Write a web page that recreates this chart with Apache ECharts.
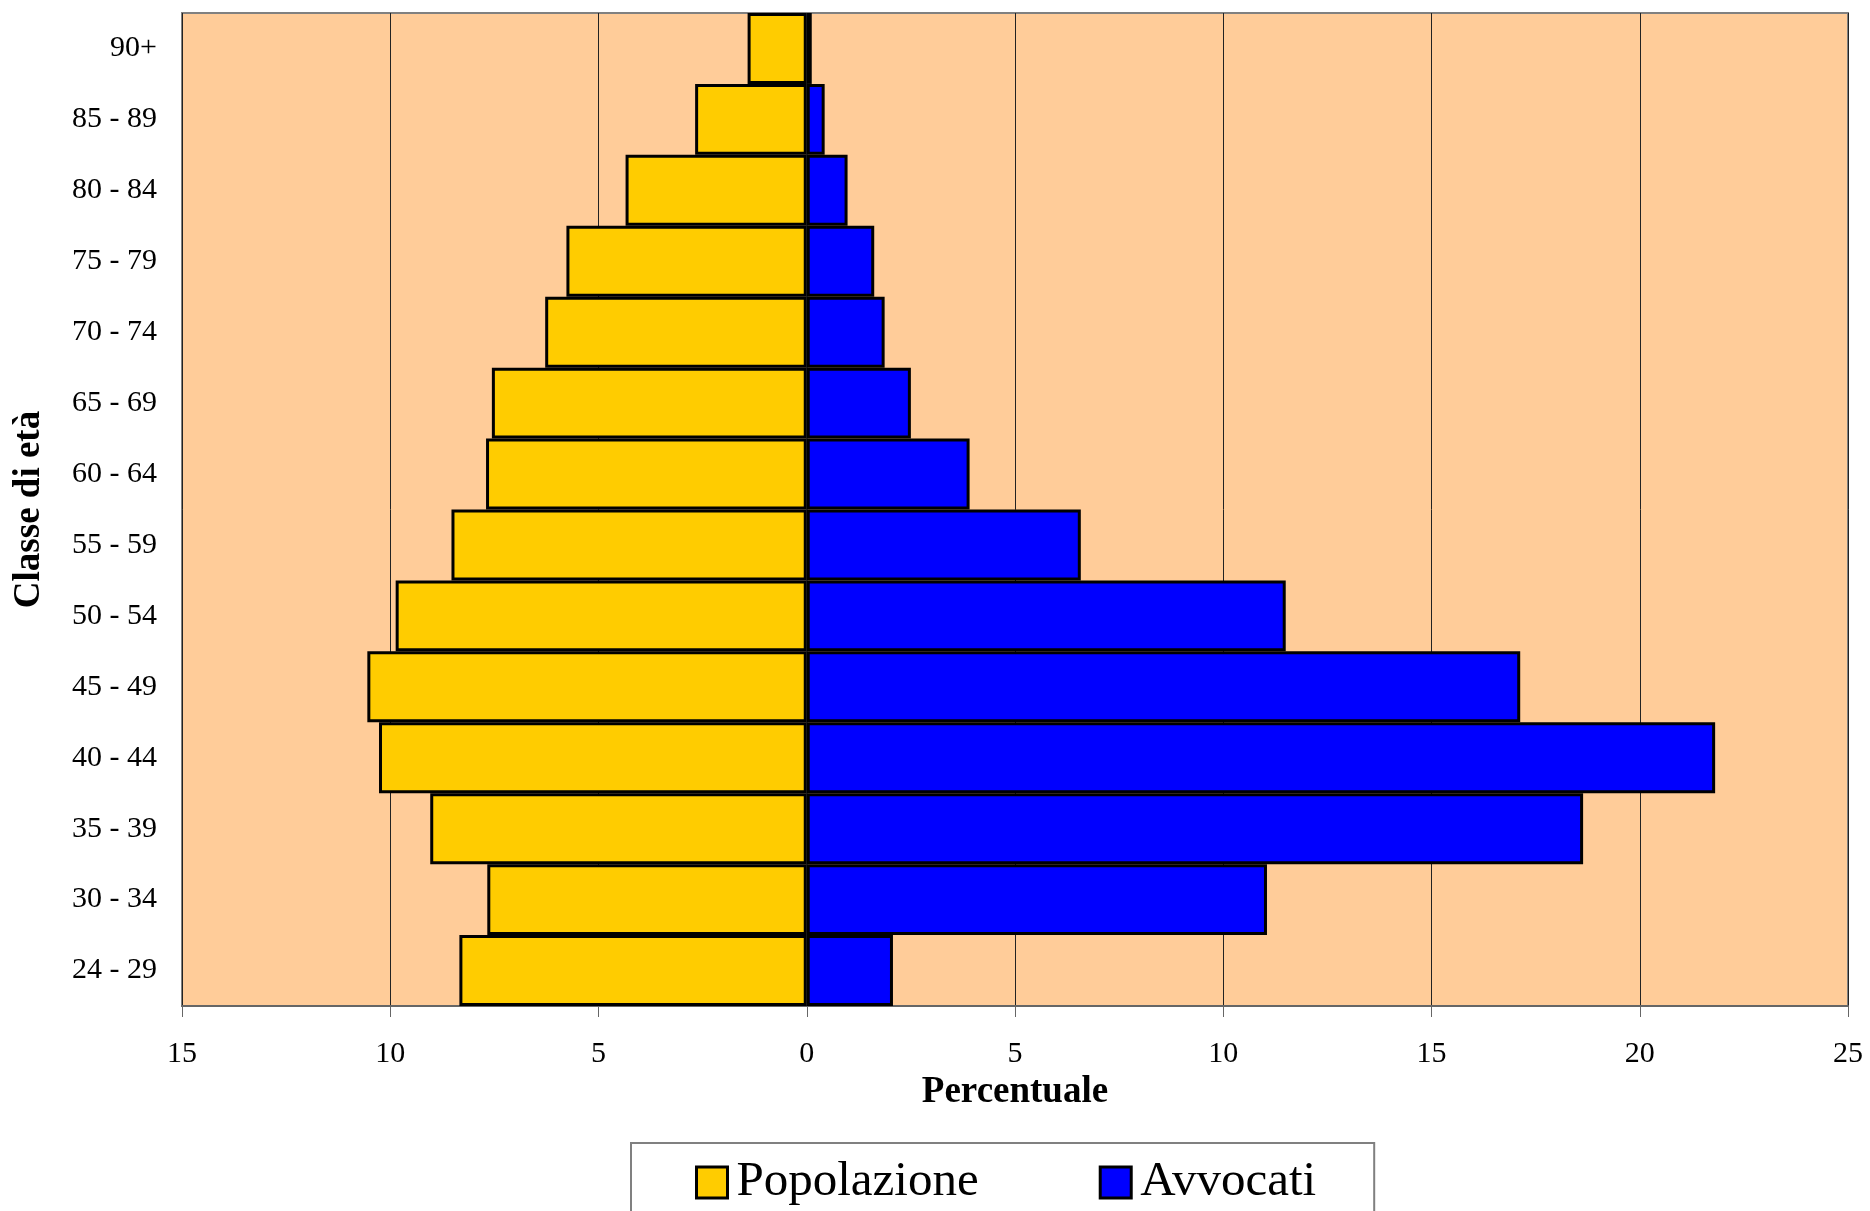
<!DOCTYPE html>
<html>
<head>
<meta charset="utf-8">
<script src="https://cdn.jsdelivr.net/npm/echarts@6/dist/echarts.min.js"></script>
<style>
html,body{margin:0;padding:0;background:#fff;}
#chart{width:1870px;height:1211px;}
</style>
</head>
<body>
<div id="chart"></div>
<script>
// Age classes, bottom to top
const categories = ['24 - 29','30 - 34','35 - 39','40 - 44','45 - 49','50 - 54','55 - 59','60 - 64','65 - 69','70 - 74','75 - 79','80 - 84','85 - 89','90+'];
// Percent of general population (drawn to the left)
const popolazione = [8.34, 7.67, 9.04, 10.27, 10.55, 9.87, 8.53, 7.70, 7.56, 6.28, 5.77, 4.35, 2.68, 1.42];
// Percent of lawyers (drawn to the right)
const avvocati = [2.07, 11.05, 18.64, 21.81, 17.13, 11.50, 6.58, 3.91, 2.50, 1.87, 1.62, 0.98, 0.43, 0.12];
const xTicks = {min: -15, max: 25, interval: 5};

const FONT = 'Liberation Serif';
const chart = echarts.init(document.getElementById('chart'));
chart.setOption({
  animation: false,
  backgroundColor: '#ffffff',
  grid: {
    left: 182, top: 13, width: 1666, height: 993,
    show: true, backgroundColor: '#FFCC99', borderColor: '#808080', borderWidth: 2,
    containLabel: false
  },
  xAxis: {
    type: 'value',
    min: xTicks.min, max: xTicks.max, interval: xTicks.interval,
    name: 'Percentuale', nameLocation: 'middle', nameGap: 64,
    nameTextStyle: {fontFamily: FONT, fontSize: 37, fontWeight: 'bold', color: '#000'},
    axisLine: {show: true, onZero: false, lineStyle: {color: '#666', width: 2}},
    axisTick: {show: true, length: 11, lineStyle: {color: '#666', width: 1}},
    axisLabel: {fontFamily: FONT, fontSize: 30, color: '#000', margin: 33,
      formatter: v => String(Math.abs(v))},
    splitLine: {show: true, lineStyle: {color: '#222', width: 1}}
  },
  yAxis: {
    type: 'category',
    data: categories,
    name: 'Classe di età', nameLocation: 'middle', nameGap: 134,
    nameTextStyle: {fontFamily: FONT, fontSize: 37, fontWeight: 'bold', color: '#000'},
    axisLine: {show: true, lineStyle: {color: '#808080', width: 2}},
    axisTick: {show: false},
    axisLabel: {fontFamily: FONT, fontSize: 30, color: '#000', margin: 25, padding: [5, 0, 0, 0]},
    splitLine: {show: false}
  },
  legend: {
    left: 631, top: 1143,
    orient: 'horizontal',
    data: ['Popolazione', 'Avvocati'],
    backgroundColor: '#ffffff', borderColor: '#808080', borderWidth: 2,
    padding: [15, 58, 30, 64],
    itemWidth: 31, itemHeight: 31, itemGap: 120,
    icon: 'rect',
    itemStyle: {borderColor: '#000', borderWidth: 3},
    textStyle: {fontFamily: FONT, fontSize: 49, color: '#000', padding: [0, 0, 0, 4]}
  },
  series: [
    {
      name: 'Popolazione', type: 'bar',
      data: popolazione.map(v => -v),
      barCategoryGap: '0%', barGap: '-100%',
      itemStyle: {color: '#FFCC00', borderColor: '#000', borderWidth: 3}
    },
    {
      name: 'Avvocati', type: 'bar',
      data: avvocati,
      barCategoryGap: '0%', barGap: '-100%',
      itemStyle: {color: '#0000FF', borderColor: '#000', borderWidth: 3}
    }
  ]
});
</script>
</body>
</html>
